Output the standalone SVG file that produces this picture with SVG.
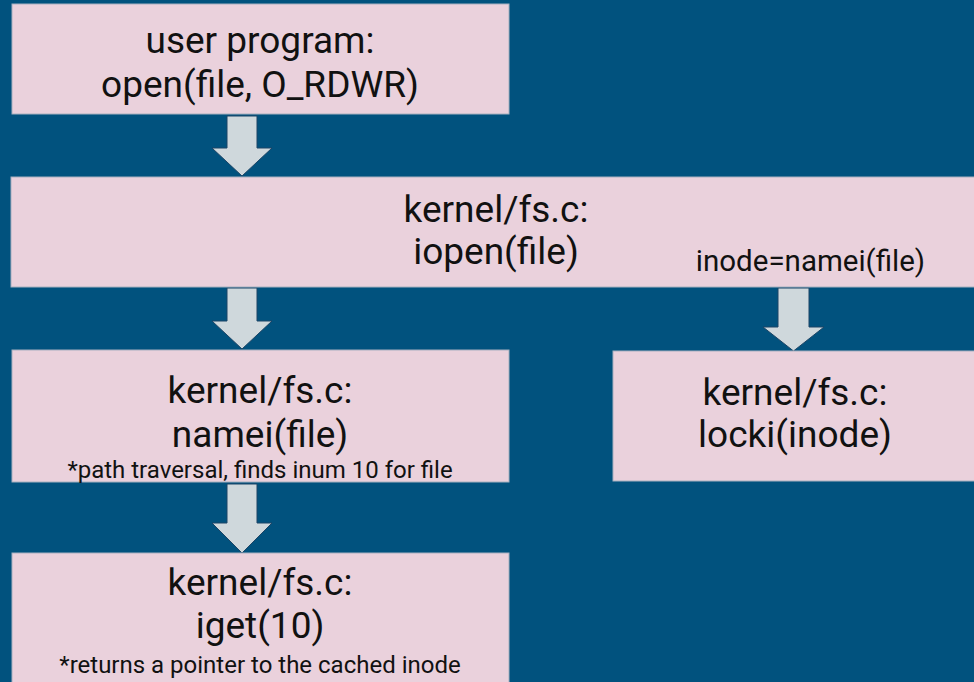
<svg xmlns="http://www.w3.org/2000/svg" width="974" height="682" viewBox="0 0 974 682">
<style>
.box{fill:#ead1dc;stroke:#a7b0bf;stroke-width:1}
.arr{fill:#cfd8dc;stroke:#1d4566;stroke-width:1}
text{font-family:Roboto,"Liberation Sans",sans-serif;fill:#111;text-anchor:middle}
.big{font-size:37px}
.mid{font-size:29.5px}
.small{font-size:24px}
</style>
<rect x="0" y="0" width="974" height="682" fill="#01527e"/>
<g id="connectors">
<polygon class="arr" points="227,116 257,116 257,148 272,148 242,176 212,148 227,148"/>
<polygon class="arr" points="227,288 257,288 257,321 272,321 242,349 212,321 227,321"/>
<polygon class="arr" points="778,288 809,288 809,327 824,327 793.5,351 763,327 778,327"/>
<polygon class="arr" points="227,484 257,484 257,523 272,523 242,553 212,523 227,523"/>
</g>
<g id="user-open">
<rect class="box" x="12" y="4" width="497" height="110"/>
<text class="big" x="260" y="53">user program:</text>
<text class="big" x="260" y="97">open(file, O_RDWR)</text>
</g>
<g id="iopen">
<rect class="box" x="11" y="177" width="975" height="110"/>
<text class="big" x="496" y="222">kernel/fs.c:</text>
<text class="big" x="496" y="264">iopen(file)</text>
<text class="mid" x="810.5" y="271">inode=namei(file)</text>
</g>
<g id="namei">
<rect class="box" x="12" y="350" width="497" height="132"/>
<text class="big" x="260" y="403">kernel/fs.c:</text>
<text class="big" x="260" y="447">namei(file)</text>
<text class="small" x="260" y="478">*path traversal, finds inum 10 for file</text>
</g>
<g id="locki">
<rect class="box" x="613" y="351" width="370" height="130"/>
<text class="big" x="795" y="405">kernel/fs.c:</text>
<text class="big" x="795" y="447">locki(inode)</text>
</g>
<g id="iget">
<rect class="box" x="12" y="553" width="497" height="150"/>
<text class="big" x="260" y="595">kernel/fs.c:</text>
<text class="big" x="260" y="638">iget(10)</text>
<text class="small" x="260" y="673">*returns a pointer to the cached inode</text>
</g>
</svg>
